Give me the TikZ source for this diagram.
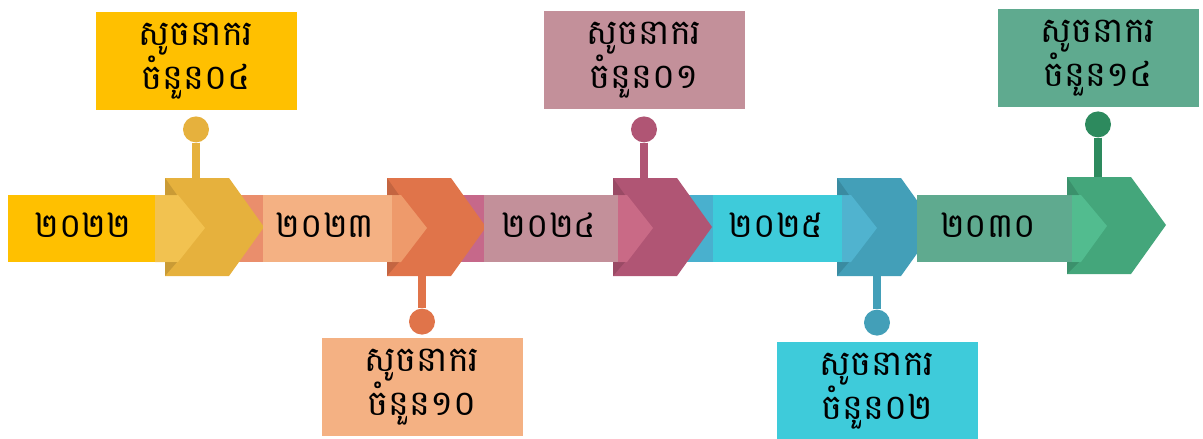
\documentclass[tikz,border=0pt]{standalone}
\usepackage{fontspec}
\newfontfamily\khmerfont[Script=Khmer]{Battambang}
\usetikzlibrary{positioning}

\definecolor{band_gold}{HTML}{FFC000}
\definecolor{band_salmon}{HTML}{F4B183}
\definecolor{band_mauve}{HTML}{C3909A}
\definecolor{band_cyan}{HTML}{3ECBDA}
\definecolor{band_green}{HTML}{5FAA8F}
\definecolor{strip_salmon}{HTML}{EA8E6C}
\definecolor{strip_pink}{HTML}{C6688A}
\definecolor{strip_blue}{HTML}{49B0CE}
\definecolor{chev_gold}{HTML}{E6B13D}
\definecolor{chev_orange}{HTML}{E0744A}
\definecolor{chev_magenta}{HTML}{B05574}
\definecolor{chev_teal}{HTML}{439FB8}
\definecolor{chev_green}{HTML}{44A67B}
\definecolor{tip_gold}{HTML}{F2C250}
\definecolor{tip_orange}{HTML}{EE9A6B}
\definecolor{tip_pink}{HTML}{C96A86}
\definecolor{tip_blue}{HTML}{50B3CF}
\definecolor{tip_green}{HTML}{52BC8F}
\definecolor{pin_green}{HTML}{2D8A5E}

\tikzset{
        % Label boxes
        node_box/.style={rectangle, align=center, inner sep=0pt, minimum width=201pt, minimum height=98pt,
                font=\khmerfont\fontsize{35}{37}\selectfont},
        % Pin heads
        node_pin/.style={circle, inner sep=0pt, minimum size=26pt},
        % Pin stems
        pin_stem/.style={line width=8pt},
        % Year labels on the band
        node_year/.style={inner sep=0pt, font=\khmerfont\fontsize{34}{40}\selectfont},
        % Folded corners of the chevrons
        fold/.style={fill=black, fill opacity=0.12}
}

\begin{document}
\begin{tikzpicture}[x=1pt, y=-1pt]
    \useasboundingbox (0,0) rectangle (1203,439);

    % dark strips of the band under the chevrons
    \fill[strip_salmon] (225,195) rectangle (263,262);
    \fill[strip_pink] (447,195) rectangle (484,262);
    \fill[strip_blue] (675,195) rectangle (713,262);

    % chevrons
    \fill[chev_gold] (165,178) -- ++(64,0) -- ++(35,49) -- ++(-35,49) -- ++(-64,0) -- cycle;
    \fill[chev_orange] (387,178) -- ++(64,0) -- ++(35,49) -- ++(-35,49) -- ++(-64,0) -- cycle;
    \fill[chev_magenta] (613,178) -- ++(64,0) -- ++(35,49) -- ++(-35,49) -- ++(-64,0) -- cycle;
    \fill[chev_teal] (837,178) -- ++(64,0) -- ++(35,49) -- ++(-35,49) -- ++(-64,0) -- cycle;
    \fill[chev_green] (1067,177) -- ++(64,0) -- ++(35,48) -- ++(-35,49) -- ++(-64,0) -- cycle;

    % band
    \fill[band_gold] (8,195) rectangle (155,262);
    \fill[band_salmon] (263,195) rectangle (392,262);
    \fill[band_mauve] (484,195) rectangle (618,262);
    \fill[band_cyan] (713,195) rectangle (842,262);
    \fill[band_green] (917,195) rectangle (1072,262);

    % lighter tips inside the chevrons
    \fill[tip_gold] (155,195) -- (178,195) -- (205,228) -- (178,262) -- (155,262) -- cycle;
    \fill[tip_orange] (392,195) -- (401,195) -- (427,228) -- (401,262) -- (392,262) -- cycle;
    \fill[tip_pink] (618,195) -- (627,195) -- (653,228) -- (627,262) -- (618,262) -- cycle;
    \fill[tip_blue] (842,195) -- (851,195) -- (877,228) -- (851,262) -- (842,262) -- cycle;
    \fill[tip_green] (1072,195) -- (1081,195) -- (1107,226) -- (1081,262) -- (1072,262) -- cycle;

    % folds
    \fill[fold] (165,178) -- (177,195) -- (165,195) -- cycle;
    \fill[fold] (165,262) -- (177,262) -- (165,276) -- cycle;
    \fill[fold] (387,178) -- (399,195) -- (387,195) -- cycle;
    \fill[fold] (387,262) -- (399,262) -- (387,276) -- cycle;
    \fill[fold] (613,178) -- (625,195) -- (613,195) -- cycle;
    \fill[fold] (613,262) -- (625,262) -- (613,276) -- cycle;
    \fill[fold] (837,178) -- (849,195) -- (837,195) -- cycle;
    \fill[fold] (837,262) -- (849,262) -- (837,276) -- cycle;
    \fill[fold] (1067,177) -- (1079,195) -- (1067,195) -- cycle;
    \fill[fold] (1067,262) -- (1079,262) -- (1067,274) -- cycle;

    % years
    \node[node_year] (y2022) at (83,225) {២០២២};
    \node[node_year] (y2023) at (325,225) {២០២៣};
    \node[node_year] (y2024) at (549,225) {២០២៤};
    \node[node_year] (y2025) at (776,225) {២០២៥};
    \node[node_year] (y2030) at (988,225) {២០៣០};

    % label boxes
    \node[node_box, fill=band_gold] (b1) at (196,61) {សូចនាករ\\ចំនួន០៤};
    \node[node_box, fill=band_salmon] (b2) at (422,387) {សូចនាករ\\ចំនួន១០};
    \node[node_box, fill=band_mauve] (b3) at (644,60) {សូចនាករ\\ចំនួន០១};
    \node[node_box, fill=band_cyan] (b4) at (877,391) {សូចនាករ\\ចំនួន០២};
    \node[node_box, fill=band_green] (b5) at (1098,58) {សូចនាករ\\ចំនួន១៤};

    % pins
    \node[node_pin, fill=chev_gold, below=6pt of b1] (p1) {};
    \node[node_pin, fill=chev_orange, above=3pt of b2] (p2) {};
    \node[node_pin, fill=chev_magenta, below=7pt of b3] (p3) {};
    \node[node_pin, fill=chev_teal, above=6pt of b4] (p4) {};
    \node[node_pin, fill=pin_green, below=4pt of b5] (p5) {};

    \coordinate (c1) at (p1 |- 0,178);
    \coordinate (c2) at (p2 |- 0,276);
    \coordinate (c3) at (p3 |- 0,178);
    \coordinate (c4) at (p4 |- 0,276);
    \coordinate (c5) at (p5 |- 0,177);

    \draw[pin_stem, chev_gold] (p1) -- (c1);
    \draw[pin_stem, chev_orange] (p2) -- (c2);
    \draw[pin_stem, chev_magenta] (p3) -- (c3);
    \draw[pin_stem, chev_teal] (p4) -- (c4);
    \draw[pin_stem, pin_green] (p5) -- (c5);
\end{tikzpicture}
\end{document}
